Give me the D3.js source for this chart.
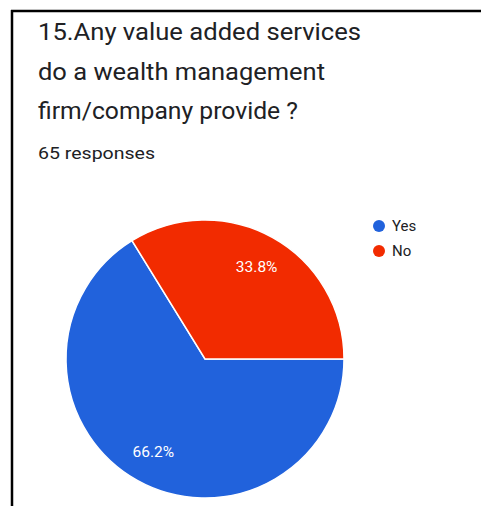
<!DOCTYPE html>
<html>
<head>
<meta charset="utf-8">
<script src="https://cdn.jsdelivr.net/npm/d3@7/dist/d3.min.js"></script>
<style>
  html, body { margin: 0; padding: 0; background: #fff; }
  svg { display: block; font-family: Roboto, "Noto Sans", sans-serif; }
</style>
</head>
<body>
<svg id="chart" width="481" height="506"></svg>
<script>
// Survey question and answers
const titleLines = ["15.Any value added services", "do a wealth management", "firm/company provide ?"];
const titleWidths = [323, 287, 260];
const responsesLabel = "65 responses";
const categories = ["Yes", "No"];
const percentages = [66.2, 33.8];
const colors = ["#2162dc", "#f22b00"];

const svg = d3.select("#chart");

// Card frame (top and left edges)
svg.append("line").attr("x1", 11).attr("x2", 481).attr("y1", 11).attr("y2", 11)
  .attr("stroke", "#000").attr("stroke-width", 2.5);
svg.append("line").attr("x1", 12).attr("x2", 12).attr("y1", 10).attr("y2", 506)
  .attr("stroke", "#000").attr("stroke-width", 2.5);

// Title
titleLines.forEach((t, i) => {
  svg.append("text").attr("x", 38).attr("y", 40 + i * 39.5)
    .attr("fill", "#202124").attr("font-size", 23)
    .attr("textLength", titleWidths[i]).attr("lengthAdjust", "spacingAndGlyphs")
    .text(t);
});

svg.append("text").attr("x", 38).attr("y", 159).attr("fill", "#202124")
  .attr("font-size", 16.5)
  .attr("textLength", 117).attr("lengthAdjust", "spacingAndGlyphs")
  .text(responsesLabel);

// Pie
const cx = 205, cy = 359, r = 139;
const pie = d3.pie().sort(null).value(d => d)
  .startAngle(Math.PI / 2).endAngle(Math.PI / 2 + 2 * Math.PI);
const arcs = pie(percentages);
const arc = d3.arc().innerRadius(0).outerRadius(r);
const labelArc = d3.arc().innerRadius(106).outerRadius(106);

const g = svg.append("g").attr("transform", `translate(${cx},${cy})`);
g.selectAll("path").data(arcs).join("path")
  .attr("d", arc)
  .attr("fill", (d, i) => colors[i])
  .attr("stroke", "#fff").attr("stroke-width", 1.5);

g.selectAll("text").data(arcs).join("text")
  .attr("transform", d => `translate(${labelArc.centroid(d)})`)
  .attr("text-anchor", "middle").attr("dy", "0.35em")
  .attr("fill", "#fff").attr("font-size", 15.5)
  .text(d => d.data.toFixed(1) + "%");

// Legend
const legend = svg.append("g").attr("transform", "translate(379,226)");
categories.forEach((c, i) => {
  const row = legend.append("g").attr("transform", `translate(0,${i * 25})`);
  row.append("circle").attr("r", 6).attr("fill", colors[i]);
  row.append("text").attr("x", 13).attr("dy", "0.35em")
    .attr("fill", "#202124").attr("font-size", 15).text(c);
});
</script>
</body>
</html>
